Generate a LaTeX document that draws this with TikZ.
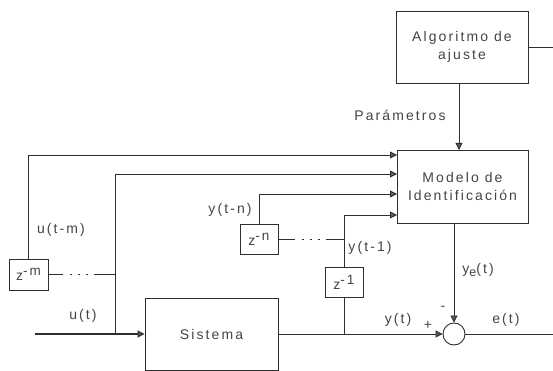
\documentclass[tikz,border=0pt]{standalone}
\usepackage{fontspec}
\setmainfont{Liberation Sans}[LetterSpace=15]
\usetikzlibrary{arrows.meta,calc}
\definecolor{ln}{HTML}{2E2E2E}
\definecolor{tx}{HTML}{444444}
\newcommand{\supx}[1]{\raisebox{5pt}{\fontsize{13.5}{14}\selectfont #1}}
\newcommand{\subx}[1]{\raisebox{-3.5pt}{\fontsize{12.5}{13}\selectfont #1}}
\tikzset{
  blk/.style={draw=ln, line width=0.9pt, rectangle, minimum width=#1, inner sep=0pt, text=tx, align=center, font=\fontsize{14}{18}\selectfont},
  dly/.style={draw=ln, line width=0.8pt, rectangle, minimum width=38pt, minimum height=30pt, inner sep=0pt, text=tx, font=\fontsize{14}{15}\selectfont},
  wire/.style={draw=ln, line width=0.85pt},
  arr/.style={wire, -{Triangle[length=7pt,width=7pt,fill=gray!70!black]}},
  lbl/.style={text=tx, inner sep=0pt, font=\fontsize{14}{15}\selectfont},
  dotline1/.style={wire, dash pattern=on 15pt off 7pt on 1.5pt off 6.5pt on 1.5pt off 6.5pt on 1.5pt off 6pt on 40pt},
}
\begin{document}
\begin{tikzpicture}[x=1pt,y=-1pt]
\useasboundingbox (0,0) rectangle (553,371);
% blocks
\node[blk=132pt, minimum height=72pt] (alg) at (462,47) {Algoritmo de\\ajuste};
\node[blk=131pt, minimum height=73pt] (mod) at (462.5,186.5) {Modelo de\\Identificación};
\node[blk=133pt, minimum height=72pt] (sis) at (211.5,334) {Sistema};
\node[dly, minimum width=39pt, minimum height=31pt] (zm) at (28.5,274.5) {z\supx{-m}};
\node[dly] (zn) at (259,239) {z\supx{-n}};
\node[dly] (z1) at (344,282) {z\supx{-1}};
\node[draw=ln, line width=0.9pt, circle, minimum size=22pt, inner sep=0pt] (sum) at (454,334) {};
% coordinates
\coordinate (algout) at (553,47);
\coordinate (uin) at (35,334);
\coordinate (tapu) at (115,334);
\coordinate (tapm) at (115,274.5);
\coordinate (tapy) at (344,334);
\coordinate (tapn) at (344,239);
\coordinate (eout) at (553,334);
\coordinate (pin) at (459,150);
\coordinate (pout) at (459,83);
\coordinate (yein) at (454,223);
\coordinate (m1) at (397,155);
\coordinate (m2) at (397,174);
\coordinate (m3) at (397,194);
\coordinate (m4) at (397,215);
% wires
\draw[wire] (alg.east) -- (algout);
\draw[arr] (pout) -- (pin);
\draw[arr] (zm.north) |- (m1);
\draw[arr] (tapu) |- (m2);
\draw[arr] (zn.north) |- (m3);
\draw[arr] (z1.north) |- (m4);
\draw[dotline1] (zm.east) -- (tapm);
\draw[wire, dash pattern=on 17pt off 7pt on 1.5pt off 6.5pt on 1.5pt off 6.5pt on 1.5pt off 6pt on 40pt] (zn.east) -- (tapn);
\draw[arr, line width=1.1pt] (uin) -- (sis.west);
\draw[arr] (sis.east) -- (sum.west);
\draw[wire] (z1.south) -- (tapy);
\draw[arr] (yein) -- (sum.north);
\draw[wire] (sum.east) -- (eout);
% labels
\node[lbl] (lpar) at (400,115) {Parámetros};
\node[lbl] (lum) at (61,230) {u(t-m)};
\node[lbl] (lu) at (83,316) {u(t)};
\node[lbl] (lyn) at (230,210) {y(t-n)};
\node[lbl] (ly1) at (370,248) {y(t-1)};
\node[lbl] (lye) at (478,270) {y\subx{e}(t)};
\node[lbl] (lminus) at (443,308) {-};
\node[lbl] (lplus) at (428,325) {+};
\node[lbl] (ly) at (398,320) {y(t)};
\node[lbl] (le) at (506,320) {e(t)};
\end{tikzpicture}
\end{document}
